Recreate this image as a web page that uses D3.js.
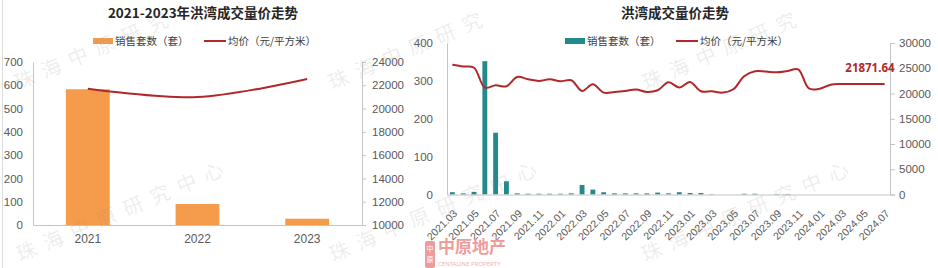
<!DOCTYPE html>
<html lang="zh-CN">
<head>
<meta charset="UTF-8">
<title>洪湾成交量价走势</title>
<style>
  body { margin: 0; background: #fff; }
  svg { display: block; font-family: "Noto Sans", "Noto Sans CJK SC", sans-serif; }
</style>
</head>
<body>
<div id="chart"></div>
<script src="https://cdn.jsdelivr.net/npm/d3@7/dist/d3.min.js"></script>
<script>
// ---- data: yearly panel ----
var yearLabels = ["2021", "2022", "2023"];
var yearSales = [583, 90, 27];
var yearPrice = [21700, 20990, 22540];

// ---- data: monthly panel ----
var monthLabels = [
    "2021.03", "2021.04", "2021.05", "2021.06", "2021.07", "2021.08", "2021.09", "2021.10", "2021.11", "2021.12",
    "2022.01", "2022.02", "2022.03", "2022.04", "2022.05", "2022.06", "2022.07", "2022.08", "2022.09", "2022.10",
    "2022.11", "2022.12", "2023.01", "2023.02", "2023.03", "2023.04", "2023.05", "2023.06", "2023.07", "2023.08",
    "2023.09", "2023.10", "2023.11", "2023.12", "2024.01", "2024.02", "2024.03", "2024.04", "2024.05", "2024.06",
    "2024.07"
];
var monthSales = [6, 3, 7, 352, 163, 35, 3, 2, 2, 2,
    2, 3, 25, 13, 6, 3, 3, 3, 3, 5,
    3, 6, 4, 4, 1, 0, 0, 2, 2, 0,
    1, 1, 0, 0, 0, 0, 0, 0, 0, 0,
    0];
var monthPrice = [25700, 25350, 25100, 21170, 21630, 21430, 23270, 22820, 22480, 22820,
    22420, 22620, 20500, 21830, 20180, 20300, 20500, 20780, 20300, 20640,
    22220, 21170, 22280, 20440, 20440, 20180, 20840, 23410, 24400, 24340,
    24200, 24460, 24790, 21000, 20950, 21750, 21871.64, 21871.64, 21871.64, 21871.64,
    21871.64];

// ---- tick labels ----
var leftCountTicks = [0, 100, 200, 300, 400, 500, 600, 700];
var leftPriceTicks = [10000, 12000, 14000, 16000, 18000, 20000, 22000, 24000];
var rightCountTicks = [0, 100, 200, 300, 400];
var rightPriceTicks = [0, 5000, 10000, 15000, 20000, 25000, 30000];
var legendNames = ["销售套数（套）", "均价（元/平方米）"];
var watermarkText = "珠海中原研究中心";

var width = 938,
    height = 268;
var orange = "#f59c4c",
    teal = "#23898b",
    red = "#b0282a",
    tickColor = "#595959",
    axisColor = "#c4c4c4";
var cjk = '"Noto Sans CJK SC", sans-serif';
var plain = d3.format("d");

var svg = d3.select("#chart").append("svg")
    .attr("width", width)
    .attr("height", height);

svg.append("rect").attr("width", width).attr("height", height).attr("fill", "#fff");
svg.append("line")
    .attr("x1", 2.5).attr("x2", 2.5).attr("y1", 0).attr("y2", height)
    .attr("stroke", "#dcdcdc");

function styleAxis(g, size) {
    g.select(".domain").attr("stroke", axisColor);
    g.selectAll(".tick line").attr("stroke", axisColor);
    g.selectAll(".tick text").attr("fill", tickColor).style("font-size", size + "px");
}

function legend(cx, color) {
    var g = svg.append("g").style("font-family", cjk).style("font-size", "10.5px");
    var x0 = cx - 110;
    g.append("rect").attr("x", x0).attr("y", 38).attr("width", 20).attr("height", 6).attr("fill", color);
    g.append("text").attr("x", x0 + 22).attr("y", 41).attr("dy", "0.35em")
        .attr("fill", "#404040").text(legendNames[0]);
    g.append("line").attr("x1", x0 + 111).attr("x2", x0 + 133).attr("y1", 41).attr("y2", 41)
        .attr("stroke", red).attr("stroke-width", 2);
    g.append("text").attr("x", x0 + 135).attr("y", 41).attr("dy", "0.35em")
        .attr("fill", "#404040").text(legendNames[1]);
}

function title(cx, txt) {
    svg.append("text")
        .attr("x", cx).attr("y", 18)
        .attr("text-anchor", "middle")
        .style("font-family", cjk)
        .style("font-weight", "bold")
        .style("font-size", "13.5px")
        .attr("fill", "#262626")
        .text(txt);
}

// ================= left: yearly =================
var x1 = d3.scaleBand().domain(yearLabels).range([33, 362]).paddingInner(0.6).paddingOuter(0.3);
var y1 = d3.scaleLinear().domain([0, 700]).range([225, 62]);
var y1p = d3.scaleLinear().domain([10000, 24000]).range([225, 62]);

title(203, "2021-2023年洪湾成交量价走势");
legend(203, orange);

svg.append("g").attr("transform", "translate(33,0)")
    .call(d3.axisLeft(y1).tickValues(leftCountTicks).tickFormat(plain).tickSize(0).tickPadding(10))
    .call(styleAxis, 11.5);
svg.append("g").attr("transform", "translate(362,0)")
    .call(d3.axisRight(y1p).tickValues(leftPriceTicks).tickFormat(plain).tickSize(4).tickSizeOuter(4).tickPadding(6))
    .call(styleAxis, 11.5);

svg.append("g").selectAll("rect")
    .data(yearSales)
    .enter().append("rect")
    .attr("x", function(d, i) { return x1(yearLabels[i]); })
    .attr("y", function(d) { return y1(d); })
    .attr("width", x1.bandwidth())
    .attr("height", function(d) { return y1(0) - y1(d); })
    .attr("fill", orange);

svg.append("g").attr("transform", "translate(0,225)")
    .call(d3.axisBottom(x1).tickSize(0).tickPadding(9))
    .call(styleAxis, 12);

var line1 = d3.line()
    .x(function(d, i) { return x1(yearLabels[i]) + x1.bandwidth() / 2; })
    .y(function(d) { return y1p(d); })
    .curve(d3.curveCatmullRom.alpha(0.5));

svg.append("path")
    .attr("d", line1(yearPrice))
    .attr("fill", "none")
    .attr("stroke", red)
    .attr("stroke-width", 2);

// ================= right: monthly =================
var x2 = d3.scaleBand().domain(monthLabels).range([447, 890]).paddingInner(0.55).paddingOuter(0.275);
var y2 = d3.scaleLinear().domain([0, 400]).range([194.5, 43]);
var y2p = d3.scaleLinear().domain([0, 30000]).range([194.5, 43]);

title(675, "洪湾成交量价走势");
legend(675, teal);

svg.append("g").attr("transform", "translate(447,0)")
    .call(d3.axisLeft(y2).tickValues(rightCountTicks).tickFormat(plain).tickSize(0).tickPadding(14))
    .call(styleAxis, 11.5);
svg.append("g").attr("transform", "translate(890,0)")
    .call(d3.axisRight(y2p).tickValues(rightPriceTicks).tickFormat(plain).tickSize(5).tickSizeOuter(5).tickPadding(4))
    .call(styleAxis, 11.5);

svg.append("g").selectAll("rect")
    .data(monthSales)
    .enter().append("rect")
    .attr("x", function(d, i) { return x2(monthLabels[i]); })
    .attr("y", function(d) { return y2(d); })
    .attr("width", x2.bandwidth())
    .attr("height", function(d) { return y2(0) - y2(d); })
    .attr("fill", teal);

var xAxis2 = svg.append("g").attr("transform", "translate(0,194.5)")
    .call(d3.axisBottom(x2)
        .tickValues(monthLabels.filter(function(d, i) { return i % 2 === 0; }))
        .tickSize(0))
    .call(styleAxis, 10.5);
xAxis2.selectAll(".tick text")
    .attr("x", 0).attr("y", 0).attr("dy", "0.35em")
    .attr("text-anchor", "end")
    .attr("transform", "translate(3,17) rotate(-45)");

var line2 = d3.line()
    .x(function(d, i) { return x2(monthLabels[i]) + x2.bandwidth() / 2; })
    .y(function(d) { return y2p(d); })
    .curve(d3.curveCatmullRom.alpha(0.5));

svg.append("path")
    .attr("d", line2(monthPrice))
    .attr("fill", "none")
    .attr("stroke", red)
    .attr("stroke-width", 2);

var lastIdx = monthPrice.length - 1;
svg.append("text")
    .attr("x", x2(monthLabels[lastIdx]) + x2.bandwidth() / 2 + 10)
    .attr("y", y2p(monthPrice[lastIdx]) - 12)
    .attr("text-anchor", "end")
    .style("font-weight", "bold")
    .style("font-size", "11.5px")
    .attr("fill", red)
    .text(d3.format(".2f")(monthPrice[lastIdx]));

// ---- logo ----
var logoBox = [420, 236, 518, 268];
var logo = svg.append("g").style("font-family", cjk);
logo.append("rect").attr("x", 425).attr("y", 241).attr("width", 10).attr("height", 27).attr("rx", 2)
    .attr("fill", "#ec9c9c");
logo.append("text").attr("x", 430).attr("y", 251).attr("text-anchor", "middle")
    .style("font-size", "7px").attr("fill", "#fff").text("中");
logo.append("text").attr("x", 430).attr("y", 262).attr("text-anchor", "middle")
    .style("font-size", "7px").attr("fill", "#fff").text("原");
logo.append("text").attr("x", 438).attr("y", 253)
    .style("font-size", "17px").style("font-weight", "bold").attr("fill", "#ee9d9d").text("中原地产");
logo.append("text").attr("x", 438).attr("y", 266)
    .style("font-family", '"Noto Sans", sans-serif')
    .style("font-size", "6px").attr("fill", "#efb3b3").text("CENTALINE PROPERTY");

// ---- watermark: one glyph at a time along a slanted line; glyphs off the canvas or on the logo skipped ----
var marks = [[18, 90], [332, 90], [646, 90], [20, 262], [333, 262], [645, 262]];
var ang = -23 * Math.PI / 180,
    step = 29;
var glyphs = [];
marks.forEach(function(m) {
    watermarkText.split("").forEach(function(ch, k) {
        var gx = m[0] + k * step * Math.cos(ang),
            gy = m[1] + k * step * Math.sin(ang);
        var inside = gy - 30 >= 0 && gy + 5 <= height && gx - 8 >= 0 && gx + 19 <= width;
        var onLogo = gx + 19 > logoBox[0] && gx - 8 < logoBox[2] && gy + 5 > logoBox[1] && gy - 30 < logoBox[3];
        if (inside && !onLogo) {
            glyphs.push({ ch: ch, x: gx, y: gy });
        }
    });
});
svg.append("g").selectAll("text")
    .data(glyphs)
    .enter().append("text")
    .attr("transform", function(d) { return "translate(" + d.x + "," + d.y + ") rotate(-23)"; })
    .style("font-family", cjk)
    .style("font-size", "20px")
    .attr("fill", "#8a8a8a")
    .attr("fill-opacity", 0.16)
    .text(function(d) { return d.ch; });
</script>
</body>
</html>
